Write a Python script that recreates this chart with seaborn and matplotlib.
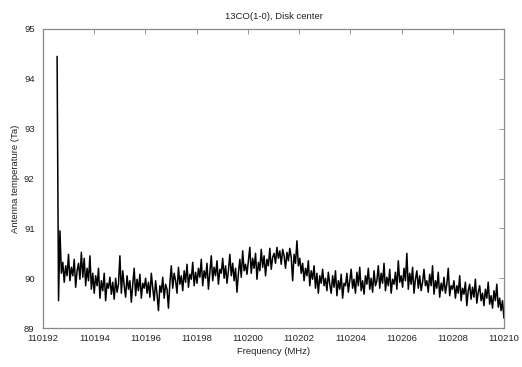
import numpy as np
import seaborn as sns
import matplotlib
matplotlib.use('Agg')
import matplotlib.pyplot as plt

# Spectrum values (Ta), channel by channel
freq_start = 110192.55
freq_end = 110210.0

temp_ta = [
    94.45, 89.55, 90.95, 90.10, 90.32, 89.92, 90.25, 90.05,
    90.48, 89.95, 90.22, 90.05, 90.38, 89.82, 90.15, 90.30, 89.98, 90.52, 90.02, 90.40, 89.85, 90.20, 89.95, 90.45, 89.78, 90.10,
    89.70, 90.05, 89.85, 90.20, 89.60, 89.95, 89.75, 90.10, 89.55, 89.90, 89.80, 90.02, 89.68, 89.92, 89.58, 90.00, 89.72, 89.88,
    90.45, 89.70, 90.15, 89.85, 89.62, 90.05, 89.78, 89.95, 89.52, 89.88, 90.20, 89.65, 89.98, 89.75, 90.08, 89.60, 89.90, 89.80,
    90.00, 89.70, 89.92, 89.62, 90.10, 89.80, 89.55, 89.95, 89.68, 89.35, 89.85, 89.72, 90.02, 89.60, 89.88, 89.78, 89.40, 89.90,
    90.25, 89.80, 90.10, 89.95, 89.70, 90.22, 89.88, 90.05, 89.75, 90.15, 89.92, 90.28, 89.82, 90.08, 89.98, 90.32, 89.85, 90.12,
    89.90, 90.20, 90.02, 90.38, 89.85, 90.15, 90.00, 90.30, 89.78, 90.12, 90.45, 89.95, 90.22, 90.05, 90.35, 89.88, 90.18, 90.10,
    90.40, 90.00, 90.25, 89.90, 90.15, 90.48, 90.05, 90.30, 89.95, 90.20, 89.72, 90.10, 90.38, 90.02, 90.55, 90.15, 90.28, 90.08,
    90.35, 90.62, 90.10, 90.40, 90.20, 90.50, 89.98, 90.32, 90.15, 90.58, 90.22, 90.45, 90.05, 90.38, 90.25, 90.60, 90.18, 90.42,
    90.50, 90.30, 90.62, 90.40, 90.55, 90.28, 90.58, 90.45, 90.20, 90.52, 90.35, 90.60, 90.42, 89.95, 90.48, 90.30, 90.75, 90.25,
    90.40, 90.10, 90.30, 89.95, 90.20, 90.05, 90.35, 89.85, 90.15, 89.98, 90.25, 89.80, 90.10, 89.70, 90.05, 89.90, 90.18, 89.85,
    90.00, 89.75, 90.12, 89.88, 89.70, 90.05, 89.82, 90.15, 89.65, 89.95, 89.78, 90.08, 89.60, 89.90, 89.85, 90.10, 89.72, 89.95,
    90.18, 89.80, 89.98, 89.70, 90.12, 89.85, 90.22, 89.75, 89.95, 89.68, 90.05, 89.88, 90.20, 89.78, 90.00, 89.72, 90.15, 89.85,
    89.95, 90.25, 89.80, 90.10, 89.90, 90.30, 89.75, 90.02, 89.85, 90.18, 89.70, 89.98, 89.88, 90.12, 89.78, 90.35, 89.92, 90.05,
    89.82, 90.20, 89.95, 90.50, 89.78, 90.10, 89.88, 90.22, 89.70, 89.98, 90.15, 89.80, 90.05, 89.75, 89.92, 90.18, 89.85, 89.95,
    89.72, 90.08, 89.85, 90.25, 89.68, 89.95, 89.80, 90.12, 89.62, 89.90, 89.75, 90.02, 89.70, 89.88, 90.20, 89.65, 89.85, 89.78,
    89.95, 89.60, 89.85, 89.70, 90.05, 89.55, 89.80, 89.68, 89.92, 89.45, 89.75, 89.88, 89.58, 89.82, 89.62, 89.98, 89.50, 89.72,
    89.85, 89.55, 89.70, 89.45, 89.78, 89.60, 89.92, 89.48, 89.65, 89.40, 89.75, 89.55, 89.88, 89.42, 89.60, 89.35, 89.55, 89.20,
]

x_ticks = [110192, 110194, 110196, 110198, 110200, 110202, 110204, 110206, 110208, 110210]
y_ticks = [89, 90, 91, 92, 93, 94, 95]

freq = np.linspace(freq_start, freq_end, len(temp_ta))

sns.set_style('white')
plt.rcParams['font.family'] = ['Liberation Sans', 'DejaVu Sans']

fig = plt.figure(figsize=(5.22, 3.67), dpi=100)
ax = fig.add_axes([0.0824, 0.106, 0.883, 0.815])

sns.lineplot(x=freq, y=temp_ta, color='black', lw=1.1, estimator=None, ax=ax)

ax.set_xlim(110192, 110210)
ax.set_ylim(89, 95)
ax.set_xticks(x_ticks)
ax.set_yticks(y_ticks)
ax.set_xticklabels([str(t) for t in x_ticks])

ax.tick_params(direction='in', length=3.5, width=0.6, color='#888888',
               top=True, right=True, labelsize=6.8, labelcolor='#222222')
ax.tick_params(axis='x', pad=4)
ax.tick_params(axis='y', pad=6)
for s in ax.spines.values():
    s.set_color('#888888')
    s.set_linewidth(0.9)

ax.set_title('13CO(1-0), Disk center', fontsize=6.8, color='#222222', pad=7)
ax.set_xlabel('Frequency (MHz)', fontsize=6.8, color='#222222', labelpad=3)
ax.set_ylabel('Antenna temperature (Ta)', fontsize=6.8, color='#222222', labelpad=3)

fig.savefig('out.png', dpi=100)
